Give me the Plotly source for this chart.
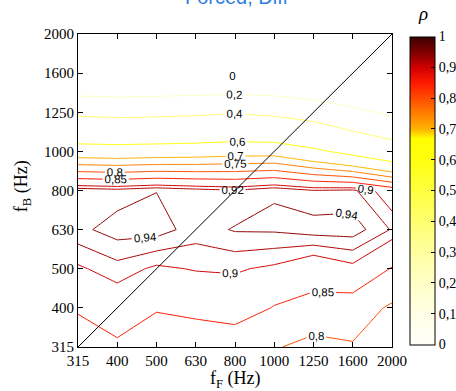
import plotly.graph_objects as go

# third-octave band centres (Hz), used for both axes
bands = ["315", "400", "500", "630", "800", "1000", "1250", "1600", "2000"]

# contour levels that are drawn and labelled
levels = [0, 0.2, 0.4, 0.6, 0.7, 0.75, 0.8, 0.85, 0.9, 0.92, 0.94]

# correlation rho; one row per f_B band (315 Hz first), one column per f_F band
rho_315 = [0.824, 0.841, 0.810, 0.805, 0.810, 0.804, 0.785, 0.796, 0.760]
rho_400 = [0.855, 0.879, 0.855, 0.868, 0.880, 0.847, 0.834, 0.824, 0.793]
rho_500 = [0.896, 0.912, 0.895, 0.902, 0.903, 0.895, 0.873, 0.892, 0.847]
rho_630 = [0.934, 0.950, 0.950, 0.930, 0.942, 0.943, 0.951, 0.951, 0.918]
rho_800 = [0.935, 0.929, 0.9394, 0.930, 0.922, 0.9385, 0.921, 0.925, 0.880]
rho_1000 = [0.655, 0.650, 0.655, 0.660, 0.670, 0.669, 0.623, 0.565, 0.500]
rho_1250 = [0.370, 0.360, 0.365, 0.375, 0.390, 0.370, 0.330, 0.250, 0.160]
rho_1600 = [-0.04, -0.05, -0.04, -0.03, -0.03, -0.035, -0.08, -0.135, -0.24]
rho_2000 = [-0.15, -0.15, -0.15, -0.15, -0.15, -0.15, -0.20, -0.25, -0.35]
rho = [rho_315, rho_400, rho_500, rho_630, rho_800,
       rho_1000, rho_1250, rho_1600, rho_2000]

# inverted "hot"-like colour map (value, colour)
cmap = [(0.0, "#fffffa"), (0.1, "#ffffe6"), (0.2, "#ffffc8"), (0.3, "#ffffa0"),
        (0.4, "#ffff70"), (0.5, "#ffff40"), (0.6, "#ffff10"), (0.67, "#ffff00"),
        (0.7, "#ffb300"), (0.75, "#ff8000"), (0.8, "#ff4d00"), (0.85, "#ff1a00"),
        (0.9, "#d00000"), (0.95, "#800000"), (1.0, "#3a0000")]


def hex_rgb(h):
    h = h.lstrip("#")
    return tuple(int(h[k:k + 2], 16) for k in (0, 2, 4))


def color_at(v):
    v = min(max(v, 0.0), 1.0)
    for (a, ca), (b, cb) in zip(cmap[:-1], cmap[1:]):
        if a <= v <= b:
            t = 0 if b == a else (v - a) / (b - a)
            r1, g1, b1 = hex_rgb(ca)
            r2, g2, b2 = hex_rgb(cb)
            return "rgb(%d,%d,%d)" % (round(r1 + t * (r2 - r1)),
                                      round(g1 + t * (g2 - g1)),
                                      round(b1 + t * (b2 - b1)))
    return cmap[-1][1]


pos = list(range(len(bands)))
fig = go.Figure()

for lev in levels:
    c = color_at(lev)
    fig.add_trace(go.Contour(
        z=rho, x=pos, y=pos,
        autocontour=False,
        contours=dict(start=lev, end=lev, size=1, coloring="lines",
                      showlabels=True, labelformat=".2~f",
                      labelfont=dict(family="Liberation Sans", size=11.5,
                                     color="black")),
        colorscale=[[0, c], [1, c]],
        showscale=False,
        line=dict(width=1, smoothing=0),
        hoverinfo="skip",
    ))

# f_F = f_B diagonal
fig.add_trace(go.Scatter(
    x=[pos[0], pos[-1]], y=[pos[0], pos[-1]], mode="lines",
    line=dict(color="black", width=1), hoverinfo="skip",
))

# colour bar
fig.add_trace(go.Scatter(
    x=[None], y=[None], mode="markers", hoverinfo="skip",
    marker=dict(
        color=[0], cmin=0, cmax=1, showscale=True,
        colorscale=[[v, col] for v, col in cmap],
        colorbar=dict(
            x=1.057, xanchor="left", xpad=0, ypad=0,
            y=0.5, yanchor="middle", len=0.984, lenmode="fraction",
            thickness=25, thicknessmode="pixels",
            outlinewidth=1, outlinecolor="black",
            tickmode="array", tickvals=[k / 10 for k in range(11)],
            ticks="inside", ticklen=4, tickcolor="black",
            tickfont=dict(family="Liberation Serif", size=14, color="black"),
        ),
    ),
))

axis_common = dict(
    range=[pos[0], pos[-1]], tickmode="array", tickvals=pos, ticktext=bands,
    ticks="inside", ticklen=5, tickcolor="black", mirror="ticks",
    showline=True, linecolor="black", linewidth=1,
    showgrid=False, zeroline=False,
    tickfont=dict(family="Liberation Serif", size=15, color="black"),
)
fig.update_xaxes(**axis_common)
fig.update_yaxes(**axis_common)

fig.update_layout(
    width=456, height=391,
    margin=dict(l=78, r=64, t=34, b=44, autoexpand=False),
    paper_bgcolor="white", plot_bgcolor="white",
    separators=", ",
    showlegend=False,
    font=dict(family="Liberation Serif", size=15, color="black"),
    annotations=[
        dict(text="f<sub>F</sub> (Hz)", xref="paper", yref="paper",
             x=0.5, y=-0.105, xanchor="center", yanchor="middle",
             showarrow=False, font=dict(family="Liberation Serif", size=18)),
        dict(text="f<sub>B</sub> (Hz)", xref="paper", yref="paper",
             x=-0.178, y=0.514, xanchor="center", yanchor="middle",
             textangle=-90, showarrow=False,
             font=dict(family="Liberation Serif", size=18)),
        dict(text="<i>ρ</i>", xref="paper", yref="paper",
             x=1.099, y=1.067, xanchor="center", yanchor="middle",
             showarrow=False, font=dict(family="Liberation Serif", size=19)),
        dict(text="Forced, Diff", xref="paper", yref="paper",
             x=0.505, y=1.076, xanchor="center", yanchor="bottom",
             showarrow=False,
             font=dict(family="Liberation Sans", size=20, color="#2f80e0")),
    ],
)

fig.write_html("out.html")
